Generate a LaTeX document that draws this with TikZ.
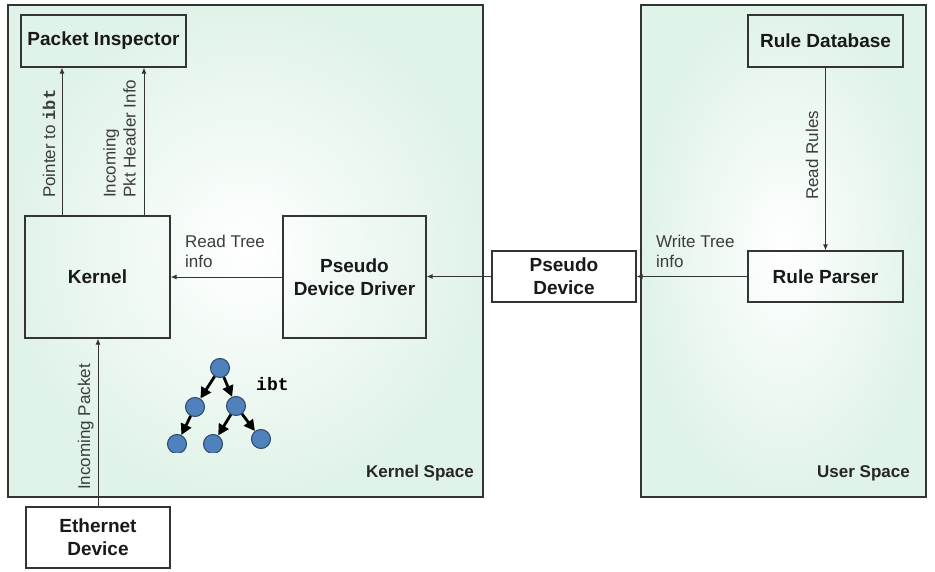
\documentclass[tikz,border=0pt]{standalone}
\usepackage{fontspec}
\setmainfont{Liberation Sans}
\setmonofont{Liberation Mono}
\usetikzlibrary{arrows.meta,calc}
\definecolor{mint}{RGB}{224,243,232}
\definecolor{linegray}{RGB}{52,52,52}
\definecolor{txtgray}{RGB}{60,60,60}
\definecolor{nodeblue}{RGB}{79,129,189}
\definecolor{nodeedge}{RGB}{45,70,100}
\begin{document}
\begin{tikzpicture}[x=1pt,y=-1pt,
  box/.style={draw=linegray, line width=1.2pt, inner sep=0pt, align=center, text=black!90, font=\fontsize{19}{23}\selectfont\bfseries},
  space/.style={draw=linegray, line width=1.4pt, inner color=white, outer color=mint, inner sep=0pt},
  conn/.style={draw=linegray, line width=0.9pt, -{Latex[length=6pt,width=5pt]}},
  lbl/.style={inner sep=0pt, align=left, font=\fontsize{17}{20}\selectfont, text=txtgray},
  spacelbl/.style={inner sep=0pt, font=\fontsize{17}{20}\selectfont\bfseries, text=black!85},
  tnode/.style={circle, draw=nodeedge, fill=nodeblue, line width=1pt, minimum size=19pt, inner sep=0pt},
  tarr/.style={line width=2.8pt, -{Triangle[length=11pt,width=11pt]}}
]
\useasboundingbox (0,0) rectangle (935,572);
% spaces
\node[space, minimum width=475, minimum height=492] (ks) at (245.5,251) {};
\node[space, minimum width=285, minimum height=492] (us) at (783.5,251) {};
% boxes
\node[box, minimum width=165, minimum height=52] (pi) at (103.5,41) {Packet Inspector};
\node[box, minimum width=145, minimum height=122] (kernel) at (97.5,277) {Kernel};
\node[box, minimum width=143, minimum height=122] (pdd) at (354.5,277) {Pseudo\\Device Driver};
\node[box, fill=white, minimum width=144, minimum height=51] (pd) at (564,276.5) {Pseudo\\Device};
\node[box, minimum width=155, minimum height=52] (rdb) at (825.5,41) {Rule Database};
\node[box, minimum width=155, minimum height=51] (rp) at (825.5,276.5) {Rule Parser};
\node[box, fill=white, minimum width=144, minimum height=61] (eth) at (98,537.5) {Ethernet\\Device};
% connectors
\coordinate (xa) at (62,0);
\coordinate (xb) at (144,0);
\coordinate (xc) at (98,0);
\draw[conn] (kernel.north -| xa) -- (pi.south -| xa);
\draw[conn] (kernel.north -| xb) -- (pi.south -| xb);
\draw[conn] (eth.north -| xc) -- (kernel.south -| xc);
\draw[conn] (pdd.west) -- (kernel.east);
\draw[conn] (pd.west) -- (pdd.east |- pd.west);
\draw[conn] (rp.west) -- (pd.east);
\draw[conn] (rdb.south) -- (rp.north);
% labels
\node[lbl, rotate=90, anchor=base west] (l1) at (55,198) {Pointer to {\ttfamily\bfseries ibt}};
\node[lbl, rotate=90, anchor=south west] (l2) at (136,198) {Incoming\\Pkt Header Info};
\node[lbl, anchor=south west] (l3) at (185,268) {Read Tree\\info};
\node[lbl, anchor=south west] (l4) at (656,268) {Write Tree\\info};
\node[lbl, rotate=90, anchor=base west] (l5) at (818,200) {Read Rules};
\node[lbl, rotate=90, anchor=base west] (l6) at (90,490) {Incoming Packet};
\node[spacelbl, anchor=base east] (l7) at (474,477) {Kernel Space};
\node[spacelbl, anchor=base east] (l8) at (910,477) {User Space};
% tree
\begin{scope}
\clip (150,300) rectangle (300,452.5);
\node[tnode] (t1) at (220,368) {};
\node[tnode] (t2) at (195,407) {};
\node[tnode] (t3) at (236,406) {};
\node[tnode] (t4) at (177,444) {};
\node[tnode] (t5) at (213,444) {};
\node[tnode] (t6) at (261,439) {};
\draw[tarr] (t1) -- (t2);
\draw[tarr] (t1) -- (t3);
\draw[tarr] (t2) -- (t4);
\draw[tarr] (t3) -- (t5);
\draw[tarr] (t3) -- (t6);
\end{scope}
\node[inner sep=0pt, anchor=base west, font=\fontsize{18}{20}\selectfont\ttfamily\bfseries] (tl) at (256,390) {ibt};
\end{tikzpicture}
\end{document}
